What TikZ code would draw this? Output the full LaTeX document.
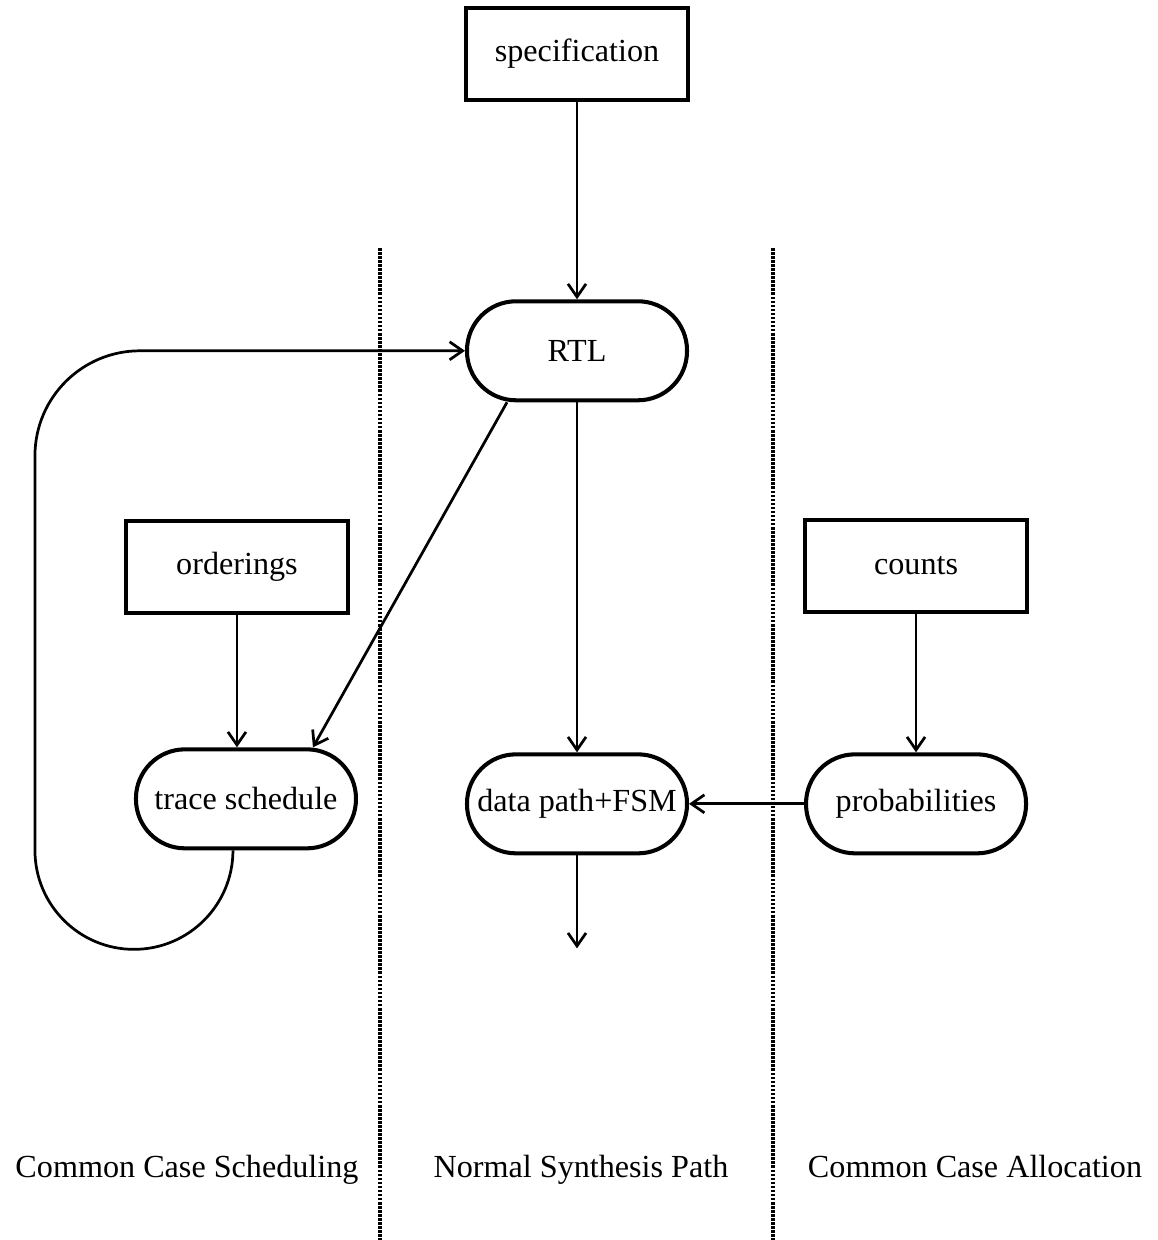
\documentclass[tikz,border=0pt]{standalone}
\usepackage{fontspec}
\setmainfont{Liberation Serif}
\usepackage{tikz}
\usetikzlibrary{arrows.meta, positioning, calc}

\begin{document}
\begin{tikzpicture}[auto, font=\fontsize{18.3}{22}\selectfont,
    >={Straight Barb[length=2.6mm, width=3.6mm]},
    block/.style={rectangle, draw, line width=2.3pt, minimum width=4.45cm, minimum height=1.85cm},
    pill/.style={rectangle, draw, line width=2.3pt, rounded corners=0.98cm, minimum width=4.4cm, minimum height=1.98cm, inner sep=2pt},
    link/.style={->, line width=1.55pt},
    lane/.style={line width=1.8pt, dash pattern=on 1.5pt off 0.8pt}]
    \useasboundingbox (0,0) rectangle (23.16,-24.8);

    % Nodes
    \node (spec) [block] at (11.54,-1.08) {specification};
    \node (rtl) [pill, below=3.94cm of spec] {RTL};
    \node (dpath) [pill, below=7cm of rtl] {data path+FSM};
    \node (trace) [pill, left=2.14cm of dpath, yshift=0.1cm] {trace schedule};
    \node (prob) [pill, right=2.3cm of dpath] {probabilities};
    \node (order) [block, above=2.64cm of trace, xshift=-0.18cm] {orderings};
    \node (counts) [block, above=2.76cm of prob] {counts};

    % Lanes
    \draw[lane] (7.6,-4.96) -- (7.6,-24.8);
    \draw[lane] (15.46,-4.96) -- (15.46,-24.8);
    \node (sched) [anchor=base] at (3.74,-23.55) {Common Case Scheduling};
    \node (normal) [anchor=base] at (11.62,-23.55) {Normal Synthesis Path};
    \node (alloc) [anchor=base] at (19.5,-23.55) {Common Case Allocation};

    % Edges
    \coordinate (out) at ($(dpath.south)+(0,-1.86)$);
    \draw[link] (spec) -- (rtl);
    \draw[link] (rtl) -- (dpath);
    \draw[link] (dpath) -- (out);
    \draw[link] (order) -- (order.south |- trace.north);
    \draw[link] (counts) -- (prob);
    \draw[link] (prob) -- (dpath);
    \draw[link] ([xshift=-1.4cm]rtl.south) -- ([xshift=1.34cm]trace.north);
    \draw[link] ([xshift=-0.26cm]trace.south) arc[start angle=0, end angle=-180, radius=1.98cm]
        [rounded corners=2.1cm] |- (rtl.west);
\end{tikzpicture}
\end{document}
